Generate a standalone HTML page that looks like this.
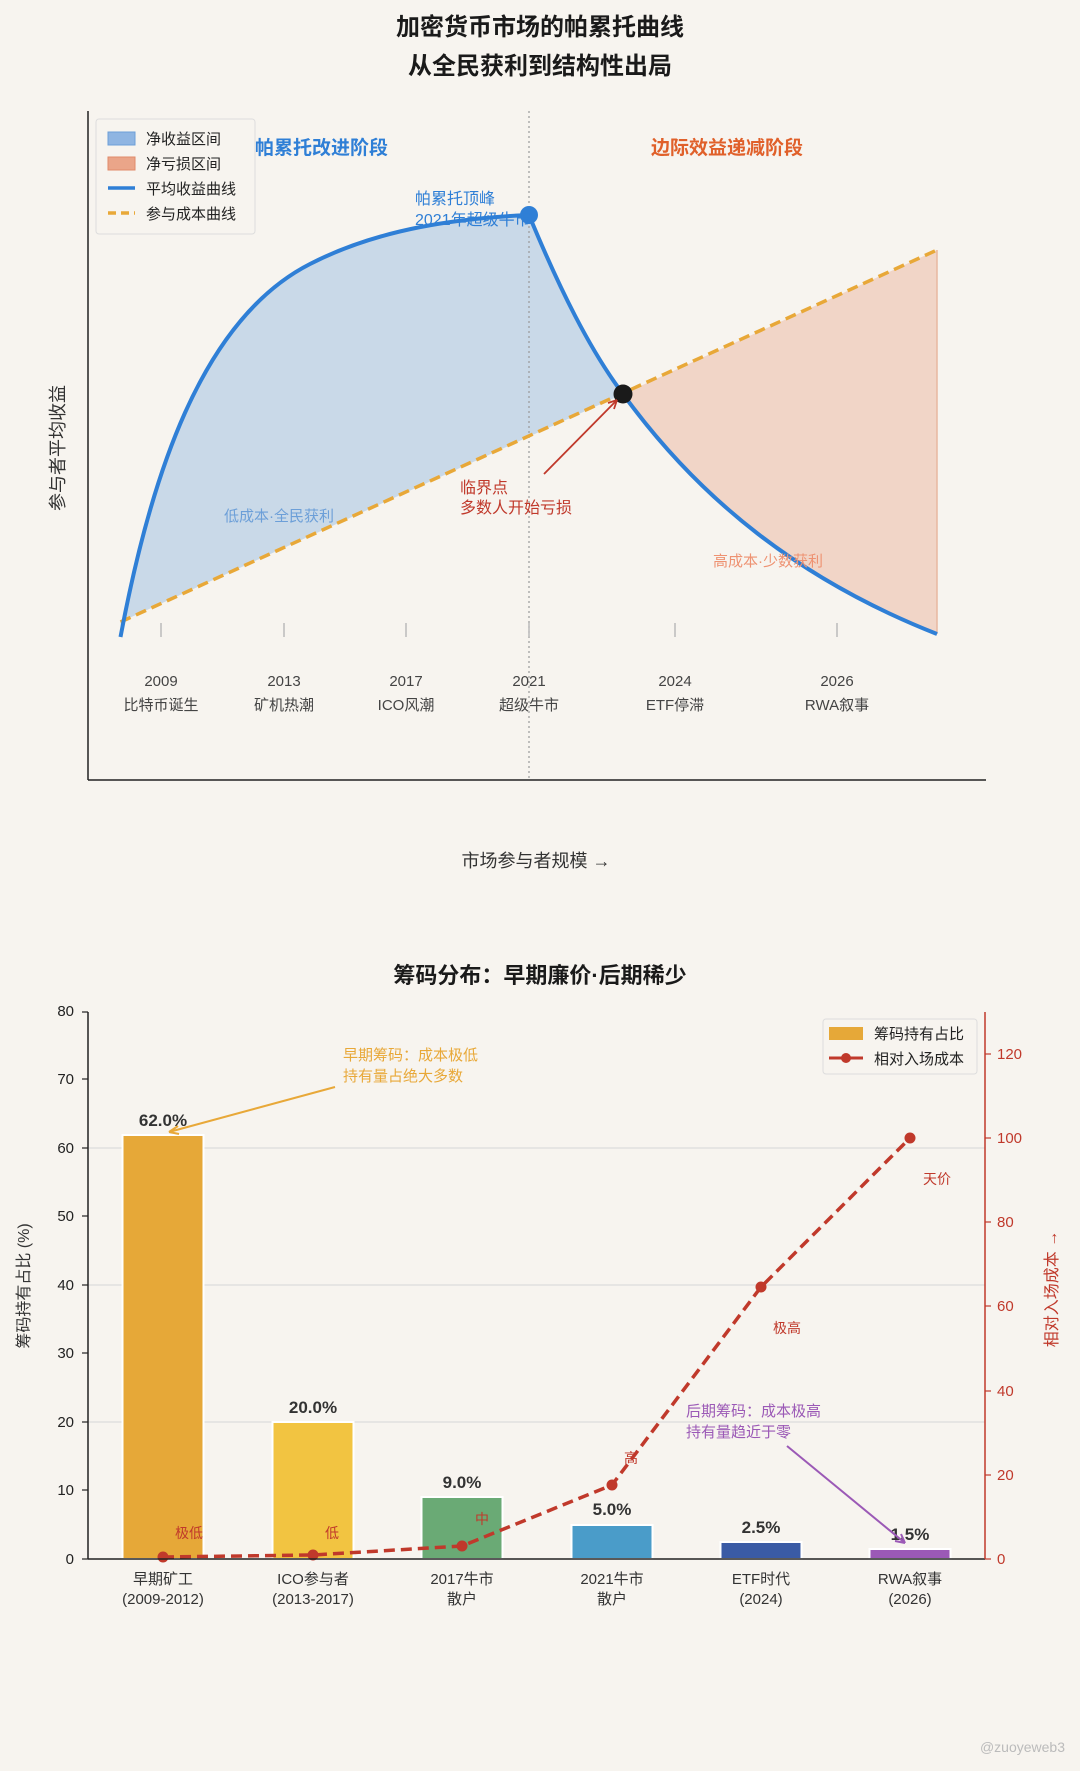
<!DOCTYPE html>
<html><head><meta charset="utf-8"><style>
html,body{margin:0;padding:0;background:#f7f4ef;}
svg{display:block;font-family:"Liberation Sans","Noto Sans CJK SC",sans-serif;}
</style></head><body>
<svg width="1080" height="1771" viewBox="0 0 1080 1771" xmlns="http://www.w3.org/2000/svg">
<rect width="1080" height="1771" fill="#f7f4ef"/>
<text x="540" y="35" text-anchor="middle" font-size="24" font-weight="bold" fill="#1a1a1a">加密货币市场的帕累托曲线</text>
<text x="540" y="74" text-anchor="middle" font-size="24" font-weight="bold" fill="#1a1a1a">从全民获利到结构性出局</text>
<!-- fills -->
<path d="M120.5,637 C150,480 200,320 310,264 C380,228 460,218 529,215 C560,290 590,350 623,394 L120.5,622 Z" fill="#c9d9e8"/>
<path d="M623,394 L937,250 L937,634 C800,580 700,500 623,394 Z" fill="#f1d5c7"/>
<line x1="937" y1="250" x2="937" y2="634" stroke="#e8b8a0" stroke-width="1.5"/>
<line x1="529" y1="111" x2="529" y2="780" stroke="#999" stroke-width="1.2" stroke-dasharray="2,3"/>
<g stroke="#bbb" stroke-width="1.5">
<line x1="161" y1="623" x2="161" y2="637"/><line x1="284" y1="623" x2="284" y2="637"/><line x1="406" y1="623" x2="406" y2="637"/><line x1="529" y1="623" x2="529" y2="637"/><line x1="675" y1="623" x2="675" y2="637"/><line x1="837" y1="623" x2="837" y2="637"/>
</g>
<line x1="120.5" y1="622" x2="937" y2="250" stroke="#e8a838" stroke-width="3.5" stroke-dasharray="11,6"/>
<path d="M120.5,637 C150,480 200,320 310,264 C380,228 460,218 529,215 C560,290 590,350 623,394 C700,500 800,580 937,634" fill="none" stroke="#2f7fd6" stroke-width="4"/>
<circle cx="529" cy="215" r="9" fill="#2f7fd6"/>
<circle cx="623" cy="394" r="9.5" fill="#1a1a1a"/>
<line x1="544" y1="474" x2="617" y2="400" stroke="#c0392b" stroke-width="1.8"/>
<path d="M617,400 l-9,3 M617,400 l-3,9" stroke="#c0392b" stroke-width="1.8"/>
<line x1="470" y1="218" x2="522" y2="216" stroke="#2f7fd6" stroke-width="1.8"/>
<g font-size="15" text-anchor="middle" fill="#444">
<text x="161" y="686">2009</text><text x="161" y="710">比特币诞生</text>
<text x="284" y="686">2013</text><text x="284" y="710">矿机热潮</text>
<text x="406" y="686">2017</text><text x="406" y="710">ICO风潮</text>
<text x="529" y="686">2021</text><text x="529" y="710">超级牛市</text>
<text x="675" y="686">2024</text><text x="675" y="710">ETF停滞</text>
<text x="837" y="686">2026</text><text x="837" y="710">RWA叙事</text>
</g>
<text x="255" y="154" font-size="19" font-weight="bold" fill="#2f7fd6">帕累托改进阶段</text>
<text x="651" y="154" font-size="19" font-weight="bold" fill="#e0602a">边际效益递减阶段</text>
<text x="415" y="204" font-size="16" fill="#2f7fd6">帕累托顶峰</text>
<text x="415" y="225" font-size="16" fill="#2f7fd6">2021年超级牛市</text>
<text x="460" y="493" font-size="16" fill="#c0392b">临界点</text>
<text x="460" y="513" font-size="16" fill="#c0392b">多数人开始亏损</text>
<text x="224" y="521" font-size="15" fill="#6c9fd8">低成本·全民获利</text>
<text x="713" y="566" font-size="15" fill="#ee9272">高成本·少数获利</text>
<!-- legend -->
<rect x="96" y="119" width="159" height="115" rx="3" fill="#f7f4ef" stroke="#ddd"/>
<rect x="108" y="132" width="27" height="13" fill="#8fb5e2" stroke="#6c9fd8"/>
<text x="146" y="144" font-size="15" fill="#222">净收益区间</text>
<rect x="108" y="157" width="27" height="13" fill="#eaa589" stroke="#e08a6a"/>
<text x="146" y="169" font-size="15" fill="#222">净亏损区间</text>
<line x1="108" y1="188" x2="135" y2="188" stroke="#2f7fd6" stroke-width="3.5"/>
<text x="146" y="194" font-size="15" fill="#222">平均收益曲线</text>
<line x1="108" y1="213" x2="135" y2="213" stroke="#e8a838" stroke-width="3.5" stroke-dasharray="8,5"/>
<text x="146" y="219" font-size="15" fill="#222">参与成本曲线</text>
<!-- axes -->
<line x1="88" y1="111" x2="88" y2="780" stroke="#222" stroke-width="1.5"/>
<line x1="88" y1="780" x2="986" y2="780" stroke="#222" stroke-width="1.5"/>
<text transform="translate(64,448) rotate(-90)" text-anchor="middle" font-size="18" fill="#333">参与者平均收益</text>
<text x="536" y="867" text-anchor="middle" font-size="18" fill="#333">市场参与者规模 →</text>

<!-- bottom chart -->
<text x="540" y="983" text-anchor="middle" font-size="22" font-weight="bold" fill="#1a1a1a">筹码分布：早期廉价·后期稀少</text>
<g stroke="#dcdcdc" stroke-width="1.2">
<line x1="88" y1="1422" x2="985" y2="1422"/><line x1="88" y1="1285" x2="985" y2="1285"/><line x1="88" y1="1148" x2="985" y2="1148"/>
</g>
<g stroke="#fff" stroke-width="2">
<rect x="122.5" y="1135" width="81" height="424" fill="#e6a838"/>
<rect x="272.5" y="1422" width="81" height="137" fill="#f2c441"/>
<rect x="421.5" y="1497" width="81" height="62" fill="#6aaa75"/>
<rect x="571.5" y="1525" width="81" height="34" fill="#4a9cc9"/>
<rect x="720.5" y="1542" width="81" height="17" fill="#3a5ba5"/>
<rect x="869.5" y="1549" width="81" height="10" fill="#9b59b6"/>
</g>
<g font-size="17" font-weight="bold" text-anchor="middle" fill="#333">
<text x="163" y="1126">62.0%</text><text x="313" y="1413">20.0%</text><text x="462" y="1488">9.0%</text>
<text x="612" y="1515">5.0%</text><text x="761" y="1533">2.5%</text><text x="910" y="1540">1.5%</text>
</g>
<polyline points="163,1557 313,1555 462,1546 612,1485 761,1287 910,1138" fill="none" stroke="#c0392b" stroke-width="3.5" stroke-dasharray="11,6"/>
<g fill="#c0392b"><circle cx="163" cy="1557" r="5.5"/><circle cx="313" cy="1555" r="5.5"/><circle cx="462" cy="1546" r="5.5"/><circle cx="612" cy="1485" r="5.5"/><circle cx="761" cy="1287" r="5.5"/><circle cx="910" cy="1138" r="5.5"/></g>
<g font-size="14" fill="#c0392b">
<text x="175" y="1538">极低</text><text x="325" y="1538">低</text><text x="475" y="1524">中</text><text x="624" y="1463">高</text><text x="773" y="1333">极高</text><text x="923" y="1184">天价</text>
</g>
<text x="343" y="1060" font-size="15" fill="#e8a838">早期筹码：成本极低</text>
<text x="343" y="1081" font-size="15" fill="#e8a838">持有量占绝大多数</text>
<line x1="335" y1="1087" x2="169" y2="1132" stroke="#e8a838" stroke-width="2"/>
<path d="M169,1132 l9,-6 M169,1132 l10,2" stroke="#e8a838" stroke-width="2"/>
<text x="686" y="1416" font-size="15" fill="#9b59b6">后期筹码：成本极高</text>
<text x="686" y="1437" font-size="15" fill="#9b59b6">持有量趋近于零</text>
<line x1="787" y1="1446" x2="905" y2="1543" stroke="#9b59b6" stroke-width="2"/>
<path d="M905,1543 l-4,-9 M905,1543 l-10,-2" stroke="#9b59b6" stroke-width="2"/>
<!-- axes -->
<line x1="88" y1="1012" x2="88" y2="1559" stroke="#222" stroke-width="1.5"/>
<line x1="88" y1="1559" x2="985" y2="1559" stroke="#222" stroke-width="1.5"/>
<line x1="985" y1="1012" x2="985" y2="1559" stroke="#c0392b" stroke-width="1.5"/>
<g font-size="15" fill="#222" text-anchor="end">
<text x="74" y="1564">0</text><text x="74" y="1495">10</text><text x="74" y="1427">20</text><text x="74" y="1358">30</text><text x="74" y="1290">40</text><text x="74" y="1221">50</text><text x="74" y="1153">60</text><text x="74" y="1084">70</text><text x="74" y="1016">80</text>
</g>
<g stroke="#222" stroke-width="1.2">
<line x1="82" y1="1559" x2="88" y2="1559"/><line x1="82" y1="1490" x2="88" y2="1490"/><line x1="82" y1="1422" x2="88" y2="1422"/><line x1="82" y1="1353" x2="88" y2="1353"/><line x1="82" y1="1285" x2="88" y2="1285"/><line x1="82" y1="1216" x2="88" y2="1216"/><line x1="82" y1="1148" x2="88" y2="1148"/><line x1="82" y1="1079" x2="88" y2="1079"/><line x1="82" y1="1012" x2="88" y2="1012"/>
</g>
<g stroke="#c0392b" stroke-width="1.2">
<line x1="985" y1="1559" x2="991" y2="1559"/><line x1="985" y1="1475" x2="991" y2="1475"/><line x1="985" y1="1391" x2="991" y2="1391"/><line x1="985" y1="1306" x2="991" y2="1306"/><line x1="985" y1="1222" x2="991" y2="1222"/><line x1="985" y1="1138" x2="991" y2="1138"/><line x1="985" y1="1054" x2="991" y2="1054"/>
</g>
<g font-size="15" fill="#c0392b">
<text x="997" y="1564">0</text><text x="997" y="1480">20</text><text x="997" y="1396">40</text><text x="997" y="1311">60</text><text x="997" y="1227">80</text><text x="997" y="1143">100</text><text x="997" y="1059">120</text>
</g>
<text transform="translate(29,1286) rotate(-90)" text-anchor="middle" font-size="16" fill="#333">筹码持有占比 (%)</text>
<text transform="translate(1057,1289) rotate(-90)" text-anchor="middle" font-size="16" fill="#c0392b">相对入场成本 →</text>
<g font-size="15" fill="#333" text-anchor="middle">
<text x="163" y="1584">早期矿工</text><text x="163" y="1604">(2009-2012)</text>
<text x="313" y="1584">ICO参与者</text><text x="313" y="1604">(2013-2017)</text>
<text x="462" y="1584">2017牛市</text><text x="462" y="1604">散户</text>
<text x="612" y="1584">2021牛市</text><text x="612" y="1604">散户</text>
<text x="761" y="1584">ETF时代</text><text x="761" y="1604">(2024)</text>
<text x="910" y="1584">RWA叙事</text><text x="910" y="1604">(2026)</text>
</g>
<rect x="823" y="1019" width="154" height="55" rx="3" fill="#f7f4ef" stroke="#ddd"/>
<rect x="829" y="1027" width="34" height="13" fill="#e6a838"/>
<text x="874" y="1039" font-size="15" fill="#222">筹码持有占比</text>
<line x1="829" y1="1058" x2="863" y2="1058" stroke="#c0392b" stroke-width="3"/>
<circle cx="846" cy="1058" r="5" fill="#c0392b"/>
<text x="874" y="1064" font-size="15" fill="#222">相对入场成本</text>
<text x="1065" y="1752" text-anchor="end" font-size="14" fill="#bbb">@zuoyeweb3</text>
</svg>
</body></html>
